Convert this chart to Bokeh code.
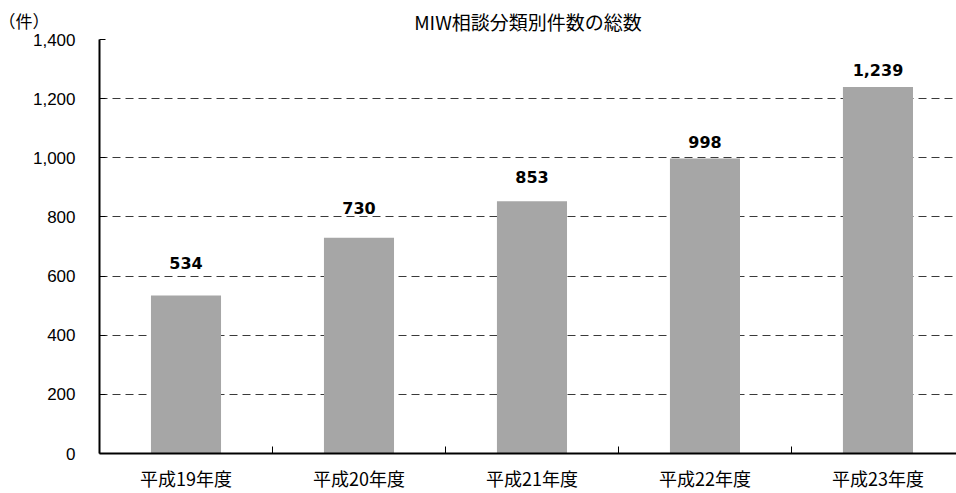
from bokeh.plotting import figure
from bokeh.models import (Range1d, FixedTicker, NumeralTickFormatter, Grid,
                          ColumnDataSource, Title)
from bokeh.core.properties import value
from bokeh.embed import file_html
from bokeh.resources import INLINE

categories = ["平成19年度", "平成20年度", "平成21年度", "平成22年度", "平成23年度"]
counts = [534, 730, 853, 998, 1239]
count_labels = ["534", "730", "853", "998", "1,239"]
y_ticks = [0, 200, 400, 600, 800, 1000, 1200, 1400]
title_text = "MIW相談分類別件数の総数"
unit_text = "（件）"

# label pixel offsets (style only)
label_offsets = [-33, -30, -24, -16, -17]

xs = [i + 0.5 for i in range(len(categories))]
src = ColumnDataSource(dict(x=xs, top=counts, lab=count_labels, off=label_offsets))

p = figure(width=956, height=493, output_backend="svg", toolbar_location=None,
           title=None,
           x_range=Range1d(0, 4.954), y_range=Range1d(0, 1400),
           min_border_left=99, min_border_right=0, min_border_top=39, min_border_bottom=40)
p.outline_line_color = None
p.background_fill_color = "white"
p.border_fill_color = "white"

main_title = Title(text=title_text, align="center", text_font="Noto Sans CJK JP",
                   text_font_size="19px", text_font_style="normal", text_color="black",
                   standoff=9)
unit_title = Title(text=unit_text, align="left", offset=-101, text_font="Noto Sans CJK JP",
                   text_font_size="17px", text_font_style="normal", text_color="black",
                   vertical_align="bottom", standoff=-63)
p.add_layout(main_title, "above")
p.add_layout(unit_title, "above")

p.vbar(x="x", top="top", width=0.405, bottom=0, source=src,
       fill_color="#A6A6A6", line_color=None)

p.text(x="x", y="top", text="lab", y_offset="off", source=src,
       text_align="center", text_baseline="alphabetic",
       text_font=value("DejaVu Sans"), text_font_size="16px",
       text_font_style="bold", text_color="black")

# axes
xa = p.xaxis[0]
xa.ticker = FixedTicker(ticks=xs, minor_ticks=[1, 2, 3, 4, 5])
xa.major_label_overrides = {x: c for x, c in zip(xs, categories)}
xa.major_tick_in = 0
xa.major_tick_out = 0
xa.minor_tick_in = 7
xa.minor_tick_out = 0
xa.minor_tick_line_color = "black"
xa.axis_line_color = "black"
xa.axis_line_width = 2
xa.major_label_standoff = 11
xa.major_label_text_line_height = 1.0
xa.major_label_text_font = "Noto Sans CJK JP"
xa.major_label_text_font_size = "18px"
xa.major_label_text_color = "black"

ya = p.yaxis[0]
ya.ticker = FixedTicker(ticks=y_ticks)
ya.formatter = NumeralTickFormatter(format="0,0")
ya.major_tick_in = 6
ya.major_tick_out = 0
ya.minor_tick_line_color = None
ya.major_tick_line_color = "black"
ya.axis_line_color = "black"
ya.axis_line_width = 2
ya.major_label_standoff = 24
ya.major_label_text_font = "Liberation Sans"
ya.major_label_text_font_size = "17px"
ya.major_label_text_color = "black"

p.xgrid.grid_line_color = None
p.ygrid.ticker = FixedTicker(ticks=y_ticks[1:-1])
p.ygrid.grid_line_color = "#3a3a3a"
p.ygrid.grid_line_dash = "8 5"
p.ygrid.grid_line_width = 1

top_line = Grid(dimension=1, ticker=FixedTicker(ticks=[y_ticks[-1]]),
                grid_line_color="black", grid_line_width=1.5)
p.add_layout(top_line)

open("out.html", "w").write(file_html(p, INLINE))
